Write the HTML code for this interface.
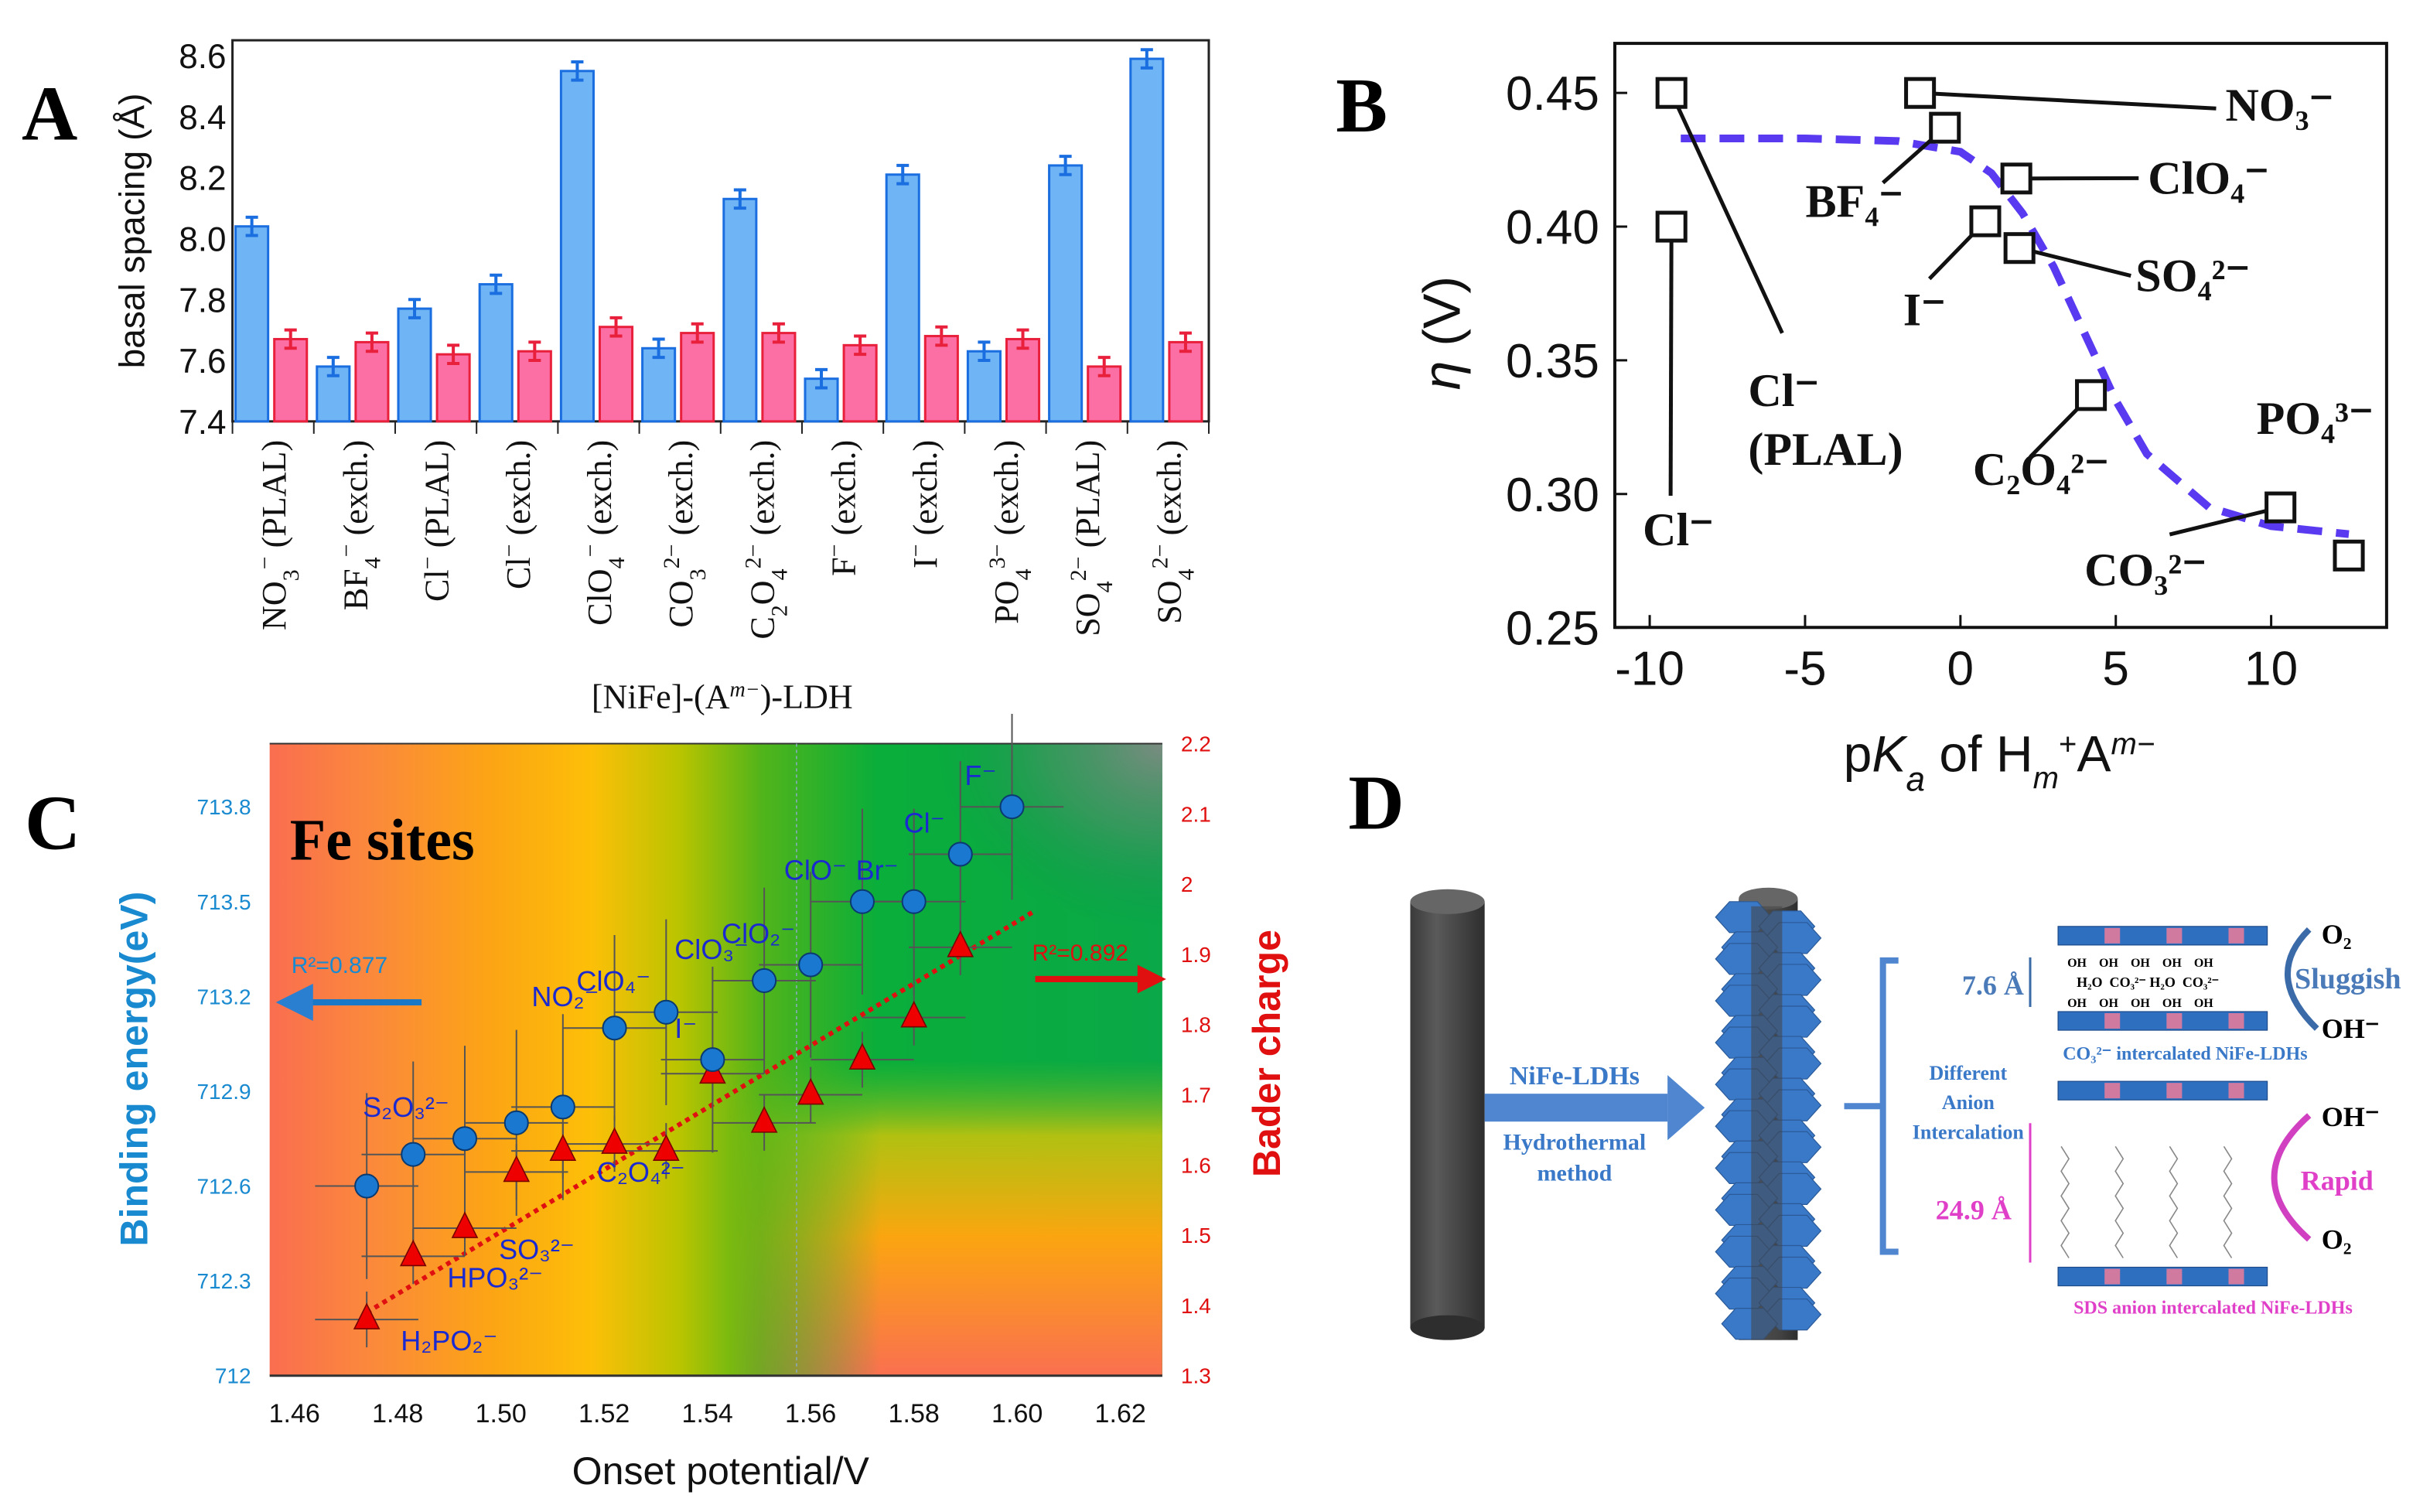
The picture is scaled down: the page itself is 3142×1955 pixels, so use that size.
<!DOCTYPE html>
<html><head><meta charset="utf-8"><style>
html,body{margin:0;padding:0;background:#fff;}
svg{display:block;}
text{font-family:"Liberation Sans",sans-serif;}
.serif{font-family:"Liberation Serif",serif;}
</style></head><body>
<svg id="fig" width="3142" height="1955" viewBox="0 0 1568 976" preserveAspectRatio="none" xmlns="http://www.w3.org/2000/svg">
<defs>
<linearGradient id="bgH" x1="0" x2="1" y1="0" y2="0">
<stop offset="0" stop-color="#fa6e50"/><stop offset="0.12" stop-color="#fb8a3a"/><stop offset="0.25" stop-color="#fca514"/><stop offset="0.36" stop-color="#fdbf08"/><stop offset="0.46" stop-color="#b9c400"/><stop offset="0.55" stop-color="#52b41a"/><stop offset="0.68" stop-color="#0aae3a"/><stop offset="1" stop-color="#0aa848"/>
</linearGradient>
<linearGradient id="bgV" x1="0" x2="0" y1="0" y2="1">
<stop offset="0" stop-color="#0aa848" stop-opacity="0"/><stop offset="0.5" stop-color="#6cbd20" stop-opacity="0"/><stop offset="0.62" stop-color="#cfc40a" stop-opacity="0.85"/><stop offset="0.78" stop-color="#fba510" stop-opacity="1"/><stop offset="1" stop-color="#fa7050" stop-opacity="1"/>
</linearGradient>
<linearGradient id="fadeX" x1="0" x2="1" y1="0" y2="0">
<stop offset="0" stop-color="#fff" stop-opacity="0"/><stop offset="0.35" stop-color="#fff" stop-opacity="1"/><stop offset="1" stop-color="#fff" stop-opacity="1"/>
</linearGradient>
<mask id="maskX" maskContentUnits="userSpaceOnUse"><rect x="470" y="480" width="280" height="408" fill="url(#fadeX)"/></mask>
<radialGradient id="corner" cx="1" cy="0" r="1"><stop offset="0" stop-color="#888" stop-opacity="0.9"/><stop offset="0.5" stop-color="#5a8a70" stop-opacity="0.5"/><stop offset="1" stop-color="#0a8a50" stop-opacity="0"/></radialGradient>
<linearGradient id="cyl" x1="0" x2="1"><stop offset="0" stop-color="#3a3a3a"/><stop offset="0.35" stop-color="#5a5a5a"/><stop offset="1" stop-color="#2e2e2e"/></linearGradient>
<marker id="ahB" markerWidth="6" markerHeight="6" refX="3" refY="3" orient="auto"><path d="M0,0 L6,3 L0,6z" fill="#2a7fd0"/></marker>
</defs>

<text class="serif" x="14" y="90" font-size="50" font-weight="bold">A</text>
<text class="serif" x="862" y="85" font-size="50" font-weight="bold">B</text>
<text class="serif" x="16" y="548" font-size="50" font-weight="bold">C</text>
<text class="serif" x="870" y="535" font-size="50" font-weight="bold">D</text>

<g id="panelA"></g>
<g id="panelB"></g>
<g id="panelC"></g>

<g id="panelD">
<rect x="910" y="582" width="48" height="275" fill="url(#cyl)"/>
<ellipse cx="934" cy="582" rx="24" ry="8" fill="#666"/>
<ellipse cx="934" cy="857" rx="24" ry="8" fill="#2e2e2e"/>
<rect x="958" y="706" width="118" height="18" fill="#4f86cf"/>
<path d="M1076,694 L1100,715 L1076,736 z" fill="#4f86cf"/>
<text class="serif" x="1016" y="700" font-size="17" font-weight="bold" fill="#3a78c8" text-anchor="middle">NiFe-LDHs</text>
<text class="serif" x="1016" y="742" font-size="15" font-weight="bold" fill="#3a78c8" text-anchor="middle">Hydrothermal</text>
<text class="serif" x="1016" y="762" font-size="15" font-weight="bold" fill="#3a78c8" text-anchor="middle">method</text>
<g id="rod2">
<rect x="1122" y="580" width="38" height="285" fill="url(#cyl)"/>
<ellipse cx="1141" cy="580" rx="19" ry="7" fill="#666"/>
</g>
<path d="M1225,620 L1215,620 L1215,808 L1225,808 M1215,714 L1190,714" stroke="#4f86cf" stroke-width="4" fill="none"/>
<text class="serif" x="1270" y="697" font-size="13" font-weight="bold" fill="#3a78c8" text-anchor="middle">Different</text>
<text class="serif" x="1270" y="716" font-size="13" font-weight="bold" fill="#3a78c8" text-anchor="middle">Anion</text>
<text class="serif" x="1270" y="735" font-size="13" font-weight="bold" fill="#3a78c8" text-anchor="middle">Intercalation</text>
<g id="layers"></g>
<text class="serif" x="1266" y="642" font-size="18" font-weight="bold" fill="#4a7ab8">7.6 Å</text>
<line x1="1310" y1="618" x2="1310" y2="650" stroke="#3a6aa8" stroke-width="1.5"/>
<text class="serif" x="1334" y="624" font-size="8" font-weight="bold">OH&#160;&#160;&#160;&#160;OH&#160;&#160;&#160;&#160;OH&#160;&#160;&#160;&#160;OH&#160;&#160;&#160;&#160;OH</text>
<text class="serif" x="1340" y="637" font-size="9" font-weight="bold">H₂O&#160;&#160;CO₃²⁻&#160;H₂O&#160;&#160;CO₃²⁻</text>
<text class="serif" x="1334" y="650" font-size="8" font-weight="bold">OH&#160;&#160;&#160;&#160;OH&#160;&#160;&#160;&#160;OH&#160;&#160;&#160;&#160;OH&#160;&#160;&#160;&#160;OH</text>
<text class="serif" x="1410" y="684" font-size="12" font-weight="bold" fill="#3a78c8" text-anchor="middle">CO₃²⁻ intercalated NiFe-LDHs</text>
<text class="serif" x="1498" y="609" font-size="18" font-weight="bold">O₂</text>
<text class="serif" x="1498" y="670" font-size="18" font-weight="bold">OH⁻</text>
<text class="serif" x="1515" y="638" font-size="19" font-weight="bold" fill="#4a7ab8" text-anchor="middle">Sluggish</text>
<path d="M1495,664 Q1460,630 1490,600" stroke="#3a6aa8" stroke-width="4" fill="none"/>
<text class="serif" x="1249" y="787" font-size="18" font-weight="bold" fill="#e040c8">24.9 Å</text>
<line x1="1310" y1="725" x2="1310" y2="815" stroke="#e040c8" stroke-width="1.5"/>
<g stroke="#888" stroke-width="0.8" fill="none">
<path d="M1330,740 l5,8 l-5,8 l5,8 l-5,8 l5,8 l-5,8 l5,8 l-5,8 l5,8"/>
<path d="M1365,740 l5,8 l-5,8 l5,8 l-5,8 l5,8 l-5,8 l5,8 l-5,8 l5,8"/>
<path d="M1400,740 l5,8 l-5,8 l5,8 l-5,8 l5,8 l-5,8 l5,8 l-5,8 l5,8"/>
<path d="M1435,740 l5,8 l-5,8 l5,8 l-5,8 l5,8 l-5,8 l5,8 l-5,8 l5,8"/>
</g>
<text class="serif" x="1498" y="727" font-size="18" font-weight="bold">OH⁻</text>
<text class="serif" x="1498" y="806" font-size="18" font-weight="bold">O₂</text>
<text class="serif" x="1508" y="768" font-size="18" font-weight="bold" fill="#e040c8" text-anchor="middle">Rapid</text>
<path d="M1490,720 Q1445,760 1490,800" stroke="#d040c0" stroke-width="4" fill="none"/>
<text class="serif" x="1428" y="848" font-size="12" font-weight="bold" fill="#e040c8" text-anchor="middle">SDS anion intercalated NiFe-LDHs</text>
</g>
</svg>

<script>
const NS="http://www.w3.org/2000/svg";
function mk(parent,tag,attrs,txt){const e=document.createElementNS(NS,tag);for(const k in attrs)e.setAttribute(k,attrs[k]);if(txt!==undefined)e.textContent=txt;parent.appendChild(e);return e;}

// ---------- Panel A data ----------
const aCategories=[["NO","3","−"," (PLAL)"],["BF","4","−"," (exch.)"],["Cl","","−"," (PLAL)"],["Cl","","−"," (exch.)"],["ClO","4","−"," (exch.)"],["CO","3","2−"," (exch.)"],["C","2","O","4","2−"," (exch.)"],["F","","−"," (exch.)"],["I","","−"," (exch.)"],["PO","4","3−"," (exch.)"],["SO","4","2−"," (PLAL)"],["SO","4","2−"," (exch.)"]];
const aBlue=[8.04,7.58,7.77,7.85,8.55,7.64,8.13,7.54,8.21,7.63,8.24,8.59];
const aPink=[7.67,7.66,7.62,7.63,7.71,7.69,7.69,7.65,7.68,7.67,7.58,7.66];
const aErr=0.03;
const aTicks=[7.4,7.6,7.8,8.0,8.2,8.4,8.6];

(function(){
const g=document.getElementById('panelA');
const x0=150,x1=780,yTop=26,yB=272;
const y=v=>yB-(v-7.4)*(yB-36)/1.2;
const gw=(x1-x0)/12;
mk(g,'rect',{x:x0,y:yTop,width:x1-x0,height:yB-yTop,fill:'none',stroke:'#222','stroke-width':1.5});
aTicks.forEach(t=>{const tl=mk(g,'text',{x:x0-4,y:y(t)+8,'font-size':22,'text-anchor':'end',fill:'#111'},t.toFixed(1));

});
const yt=mk(g,'text',{transform:`translate(93,149) rotate(-90)`,'font-size':23,'text-anchor':'middle',fill:'#111'},'basal spacing (Å)');


for(let i=0;i<12;i++){
 const gx=x0+i*gw;
 mk(g,'line',{x1:gx,x2:gx,y1:yB,y2:yB+8,stroke:'#222','stroke-width':1});
 [[aBlue[i],'#6fb4f5','#1a6ee0',2],[aPink[i],'#fc6fa4','#e8203c',27]].forEach(([v,f,s,off])=>{
  const bx=gx+off,bw=21;
  const b=mk(g,'rect',{x:bx,y:y(v),width:bw,height:yB-y(v),fill:f,stroke:s,'stroke-width':1.5});
  
  
  const cx=bx+bw/2;
  mk(g,'path',{d:`M${cx},${y(v+aErr)}V${y(v-aErr)}M${cx-4},${y(v+aErr)}H${cx+4}M${cx-4},${y(v-aErr)}H${cx+4}`,stroke:s,'stroke-width':2,fill:'none'});
 });
 const c=aCategories[i];
 const t=mk(g,'text',{class:'serif',transform:`translate(${gx+gw/2+8},${yB+12}) rotate(-90)`,'font-size':22,'text-anchor':'end',fill:'#111'});
 
 
 if(c.length===6){mk(t,'tspan',{},c[0]);mk(t,'tspan',{'baseline-shift':'sub','font-size':15},c[1]);mk(t,'tspan',{},c[2]);mk(t,'tspan',{'baseline-shift':'sub','font-size':15},c[3]);mk(t,'tspan',{'baseline-shift':'super','font-size':15},c[4]);mk(t,'tspan',{},c[5]);}
 else{mk(t,'tspan',{},c[0]);if(c[1])mk(t,'tspan',{'baseline-shift':'sub','font-size':15},c[1]);mk(t,'tspan',{'baseline-shift':'super','font-size':15},c[2]);mk(t,'tspan',{},c[3]);}
}
mk(g,'line',{x1:x1,x2:x1,y1:yB,y2:yB+8,stroke:'#222'});
const xt=mk(g,'text',{class:'serif',x:466,y:457,'font-size':22,'text-anchor':'middle',fill:'#111'});


mk(xt,'tspan',{},'[NiFe]-(A');mk(xt,'tspan',{'baseline-shift':'super','font-size':14,'font-style':'italic'},'m−');mk(xt,'tspan',{},')-LDH');
})();

// ---------- Panel B data ----------
const bPka=[-9.3,-9.3,-1.3,-0.5,1.8,0.8,1.9,4.2,10.3,12.5];
const bEta=[0.450,0.400,0.450,0.437,0.418,0.402,0.392,0.337,0.295,0.277];
const bLabels=["Cl⁻ (PLAL)","Cl⁻","NO₃⁻","BF₄⁻","ClO₄⁻","I⁻","SO₄²⁻","C₂O₄²⁻","CO₃²⁻","PO₄³⁻"];
const bFitX=[-9,-5,-2,0,1,2,3,4,5,6,8,10,12.5];
const bFitY=[0.433,0.433,0.432,0.428,0.420,0.405,0.385,0.360,0.335,0.315,0.295,0.288,0.285];
const bXTicks=[-10,-5,0,5,10];
const bYTicks=[0.25,0.30,0.35,0.40,0.45];

(function(){
const g=document.getElementById('panelB');
const X=v=>1265+v*20.05, Y=v=>60+(0.45-v)*1726;
mk(g,'rect',{x:1042,y:28,width:498,height:377,fill:'none',stroke:'#111','stroke-width':2});
bXTicks.forEach(t=>{mk(g,'line',{x1:X(t),x2:X(t),y1:405,y2:397,stroke:'#111','stroke-width':1.5});
 const l=mk(g,'text',{x:X(t),y:442,'font-size':31,'text-anchor':'middle',fill:'#111'},String(t));
 
 });
bYTicks.forEach(t=>{mk(g,'line',{x1:1042,x2:1050,y1:Y(t),y2:Y(t),stroke:'#111','stroke-width':1.5});
 const l=mk(g,'text',{x:1032,y:Y(t)+11,'font-size':31,'text-anchor':'end',fill:'#111'},t.toFixed(2));
 
 });
const yt=mk(g,'text',{transform:'translate(942,215) rotate(-90)','font-size':34,'text-anchor':'middle',fill:'#111'});


mk(yt,'tspan',{'font-style':'italic'},'η');mk(yt,'tspan',{},' (V)');
const xt=mk(g,'text',{x:1290,y:498,'font-size':33,'text-anchor':'middle',fill:'#111'});


mk(xt,'tspan',{},'p');mk(xt,'tspan',{'font-style':'italic'},'K');mk(xt,'tspan',{'baseline-shift':'sub','font-size':22,'font-style':'italic'},'a');
mk(xt,'tspan',{},' of H');mk(xt,'tspan',{'baseline-shift':'sub','font-size':20,'font-style':'italic'},'m');mk(xt,'tspan',{'baseline-shift':'super','font-size':20},'+');
mk(xt,'tspan',{},'A');mk(xt,'tspan',{'baseline-shift':'super','font-size':20,'font-style':'italic'},'m−');
let d='';bFitX.forEach((v,i)=>{d+=(i?'L':'M')+X(v)+','+Y(bFitY[i]);});
const fit=mk(g,'path',{d:d,stroke:'#5a3af0','stroke-width':5,'stroke-dasharray':'16,9',fill:'none'});


const lab=[[1150,215,1128,262],[1078,320,1060,352],[1430,70,1436,78],[1215,118,1165,140],[1380,115,1386,125],[1245,180,1228,210],[1375,178,1378,188],[1310,295,1273,313],[1400,345,1345,378],[1515,350,1456,280]];
bPka.forEach((p,i)=>{
 const px=X(p),py=Y(bEta[i]);
 mk(g,'line',{x1:px,y1:py,x2:lab[i][0],y2:lab[i][1],stroke:'#111','stroke-width':2.5});
 const s=mk(g,'rect',{x:px-9,y:py-9,width:18,height:18,fill:'#fff',stroke:'#111','stroke-width':2.5});
 
 
 const t=mk(g,'text',{class:'serif',x:lab[i][2],y:lab[i][3],'font-size':30,'font-weight':'bold',fill:'#111'});
 
 
 if(i===0){mk(t,'tspan',{},'Cl⁻');mk(t,'tspan',{x:lab[i][2],dy:38},'(PLAL)');}else t.textContent=bLabels[i];
});
})();

// ---------- Panel C data ----------
const cOnset=[1.474,1.483,1.493,1.503,1.512,1.522,1.532,1.541,1.551,1.560,1.570,1.580,1.589,1.599];
const cBE=[712.6,712.7,712.75,712.8,712.85,713.1,713.15,713.0,713.25,713.3,713.5,713.5,713.65,713.8];
const cBader=[1.38,1.47,1.51,1.59,1.62,1.63,1.62,1.73,1.66,1.70,1.75,1.81,1.91];
const cFitX=[1.474,1.603];
const cFitY=[1.39,1.96];
const cBELabels=["","","S₂O₃²⁻","","","NO₂⁻","ClO₄⁻","I⁻","ClO₃⁻","ClO₂⁻","ClO⁻","Br⁻","Cl⁻","F⁻"];
const cBaderLabels=["H₂PO₂⁻","HPO₃²⁻","SO₃²⁻","","C₂O₄²⁻"];
const cXTicks=[1.46,1.48,1.50,1.52,1.54,1.56,1.58,1.60,1.62];
const cLTicks=[712,712.3,712.6,712.9,713.2,713.5,713.8];
const cRTicks=[1.3,1.4,1.5,1.6,1.7,1.8,1.9,2,2.1,2.2];

(function(){
const g=document.getElementById('panelC');
const X=v=>190+(v-1.46)*3331, YL=v=>888-(v-712)*204, YR=v=>888-(v-1.3)*453.3;
const bg=mk(g,'rect',{x:174,y:480,width:576,height:408,fill:'url(#bgH)'});


mk(g,'rect',{x:470,y:480,width:280,height:408,fill:'url(#bgV)',mask:'url(#maskX)'});
mk(g,'rect',{x:600,y:480,width:150,height:120,fill:'url(#corner)'});
mk(g,'line',{x1:174,x2:750,y1:480,y2:480,stroke:'#333','stroke-width':1});
mk(g,'line',{x1:174,x2:750,y1:888,y2:888,stroke:'#333','stroke-width':1.5});
mk(g,'line',{x1:514,x2:514,y1:480,y2:888,stroke:'#8ab','stroke-width':0.8,'stroke-dasharray':'2,2'});
cXTicks.forEach(t=>{const l=mk(g,'text',{x:X(t),y:918,'font-size':17,'text-anchor':'middle',fill:'#111'},t.toFixed(2));
 
 });
cLTicks.forEach(t=>{const l=mk(g,'text',{x:162,y:YL(t)+5,'font-size':14,'text-anchor':'end',fill:'#1a8ad0'},String(t));
 
 });
cRTicks.forEach(t=>{const l=mk(g,'text',{x:762,y:YR(t)+5,'font-size':14,fill:'#e01010'},String(t));
 
 });
const lt=mk(g,'text',{transform:'translate(95,690) rotate(-90)','font-size':25,'font-weight':'bold','text-anchor':'middle',fill:'#1a8ad0'},'Binding energy(eV)');


const rt=mk(g,'text',{transform:'translate(826,680) rotate(-90)','font-size':25,'font-weight':'bold','text-anchor':'middle',fill:'#e01010'},'Bader charge');


const xt=mk(g,'text',{x:465,y:958,'font-size':25,'text-anchor':'middle',fill:'#111'},'Onset potential/V');


const ti=mk(g,'text',{class:'serif',x:187,y:555,'font-size':38,'font-weight':'bold',fill:'#000'},'Fe sites');


mk(g,'text',{x:188,y:628,'font-size':15,fill:'#1a8ad0'},'R²=0.877');
mk(g,'line',{x1:272,x2:190,y1:647,y2:647,stroke:'#1a78c8','stroke-width':4,'marker-end':'url(#ahB)'});
mk(g,'text',{x:666,y:620,'font-size':15,fill:'#e01010'},'R²=0.892');
mk(g,'path',{d:'M668,632H742M736,626L748,632L736,638z',stroke:'#e01010','stroke-width':4,fill:'#e01010'});
const fl=mk(g,'line',{x1:X(cFitX[0]),y1:YR(cFitY[0]),x2:X(cFitX[1]),y2:YR(cFitY[1]),stroke:'#e01010','stroke-width':3,'stroke-dasharray':'3,3'});


const dx=0.01;
cBader.forEach((v,i)=>{
 const px=X(cOnset[i]),py=YR(v);
 mk(g,'path',{d:`M${X(cOnset[i]-dx)},${py}H${X(cOnset[i]+dx)}M${px},${py-18}V${py+18}`,stroke:'#555','stroke-width':1,fill:'none'});
});
cBE.forEach((v,i)=>{
 const px=X(cOnset[i]),py=YL(v);
 mk(g,'path',{d:`M${X(cOnset[i]-dx)},${py}H${X(cOnset[i]+dx)}M${px},${py-60}V${py+60}`,stroke:'#555','stroke-width':1,fill:'none'});
});
cBader.forEach((v,i)=>{
 const px=X(cOnset[i]),py=YR(v);
 const t=mk(g,'path',{d:`M${px},${py-10}L${px+8},${py+6}L${px-8},${py+6}z`,fill:'#e00',stroke:'#700','stroke-width':0.8});
 
 
});
cBE.forEach((v,i)=>{
 const px=X(cOnset[i]),py=YL(v);
 const c=mk(g,'circle',{cx:px,cy:py,r:7.5,fill:'#1a78d0',stroke:'#0a3a70','stroke-width':1});
 
 
 if(cBELabels[i]){const l=mk(g,'text',{x:px-10,y:py-14,'font-size':18,'text-anchor':'end',fill:'#1a2ad0'},cBELabels[i]);
  
  }
});
cBaderLabels.forEach((s,i)=>{if(!s)return;
 const l=mk(g,'text',{x:X(cOnset[i])+22,y:YR(cBader[i])+20,'font-size':18,fill:'#1a2ad0'},s);
 
 });
})();

(function(){
const rod=document.getElementById('rod2');
for(let k=0;k<20;k++){const yy=592+k*13.5;const side=k%2?1:-1;
 [[1141+side*16,yy],[1141-side*12,yy+6]].forEach(([cx,cy])=>{
  mk(rod,'polygon',{points:`${cx-18},${cy} ${cx-9},${cy-10} ${cx+9},${cy-10} ${cx+18},${cy} ${cx+9},${cy+10} ${cx-9},${cy+10}`,fill:'#3a78c8',stroke:'#2a5a98','stroke-width':0.6});});}
mk(rod,'rect',{x:1130,y:585,width:20,height:280,fill:'#444',opacity:0.55});
const L=document.getElementById('layers');
[[1328,598],[1328,653],[1328,698],[1328,818]].forEach(([x,y])=>{
 mk(L,'rect',{x:x,y:y,width:135,height:12,fill:'#2f6fc0',stroke:'#1c4a8a','stroke-width':0.6});
 for(let j=0;j<3;j++)mk(L,'rect',{x:x+30+j*40,y:y+1,width:10,height:10,fill:'#d07aa0'});
});
})();
</script>
</body></html>
